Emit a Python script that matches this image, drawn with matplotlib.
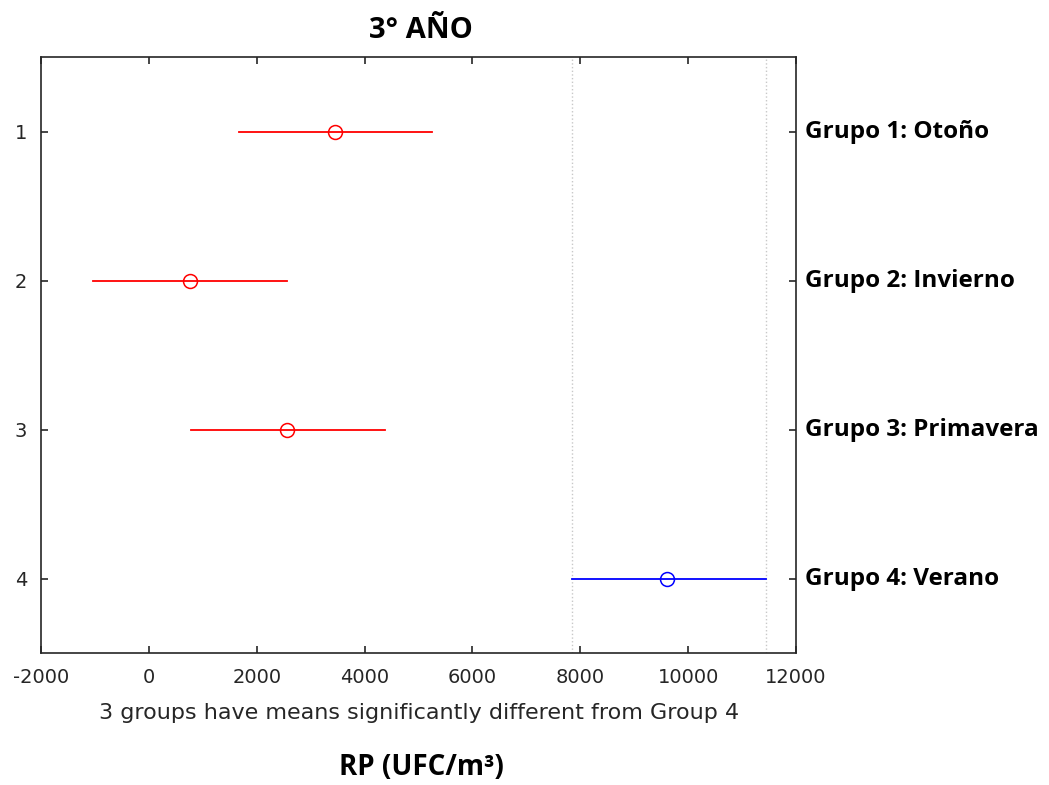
import matplotlib
matplotlib.use("Agg")
import matplotlib.pyplot as plt

# Group data (multiple comparison intervals)
groups = [1, 2, 3, 4]
group_labels = ["Grupo 1: Otoño", "Grupo 2: Invierno", "Grupo 3: Primavera", "Grupo 4: Verano"]
means = [3445, 765, 2570, 9610]
lower = [1675, -1030, 780, 7845]
upper = [5255, 2555, 4370, 11440]
colors = ["#ff0000", "#ff0000", "#ff0000", "#0000ff"]
ref_group = 3  # index of Group 4

xticks = [-2000, 0, 2000, 4000, 6000, 8000, 10000, 12000]

W, H = 1049, 785
fig = plt.figure(figsize=(W / 100, H / 100), dpi=100)
ax = fig.add_axes([41 / W, 1 - 653 / H, 755 / W, 596 / H])

gray = "#262626"

# Reference interval lines for Group 4
for xv in (lower[ref_group], upper[ref_group]):
    ax.axvline(xv, color="#c8c8c8", linestyle=":", linewidth=1.0, zorder=1)

for g, m, lo, hi, c in zip(groups, means, lower, upper, colors):
    ax.plot([lo, hi], [g, g], color=c, linewidth=1.3, zorder=2)
    ax.plot(m, g, marker="o", markersize=10, markerfacecolor="none",
            markeredgecolor=c, markeredgewidth=1.1, zorder=3)

ax.set_xlim(-2000, 12000)
ax.set_ylim(4.5, 0.5)
ax.set_xticks(xticks)
ax.set_xticklabels([str(v) for v in xticks])
ax.set_yticks(groups)
ax.set_yticklabels([str(g) for g in groups])

for s in ax.spines.values():
    s.set_color(gray)
    s.set_linewidth(1.2)
ax.tick_params(axis="both", direction="in", length=5, width=1.2, color=gray,
               labelcolor=gray, labelsize=14, top=True, right=True)
ax.tick_params(axis="x", pad=11)
ax.tick_params(axis="y", pad=10)
for lab in ax.get_xticklabels() + ax.get_yticklabels():
    lab.set_family("DejaVu Sans")

# Group names on the right
for g, name in zip(groups, group_labels):
    ax.annotate(name, xy=(1, g), xycoords=("axes fraction", "data"),
                xytext=(6.5, -5), textcoords="offset points",
                ha="left", va="baseline", fontsize=17.5, fontweight="bold",
                family="Open Sans", color="black")

fig.text(421 / W, 1 - 38 / H, "3° AÑO", ha="center", va="baseline",
         fontsize=21, fontweight="bold", family="Open Sans")
fig.text(419 / W, 1 - 719 / H,
         "3 groups have means significantly different from Group 4",
         ha="center", va="baseline", fontsize=16, color=gray, family="DejaVu Sans")
fig.text(421 / W, 1 - 775 / H, "RP (UFC/m³)", ha="center", va="baseline",
         fontsize=20, fontweight="bold", family="Open Sans")

fig.savefig("out.png", dpi=100)
